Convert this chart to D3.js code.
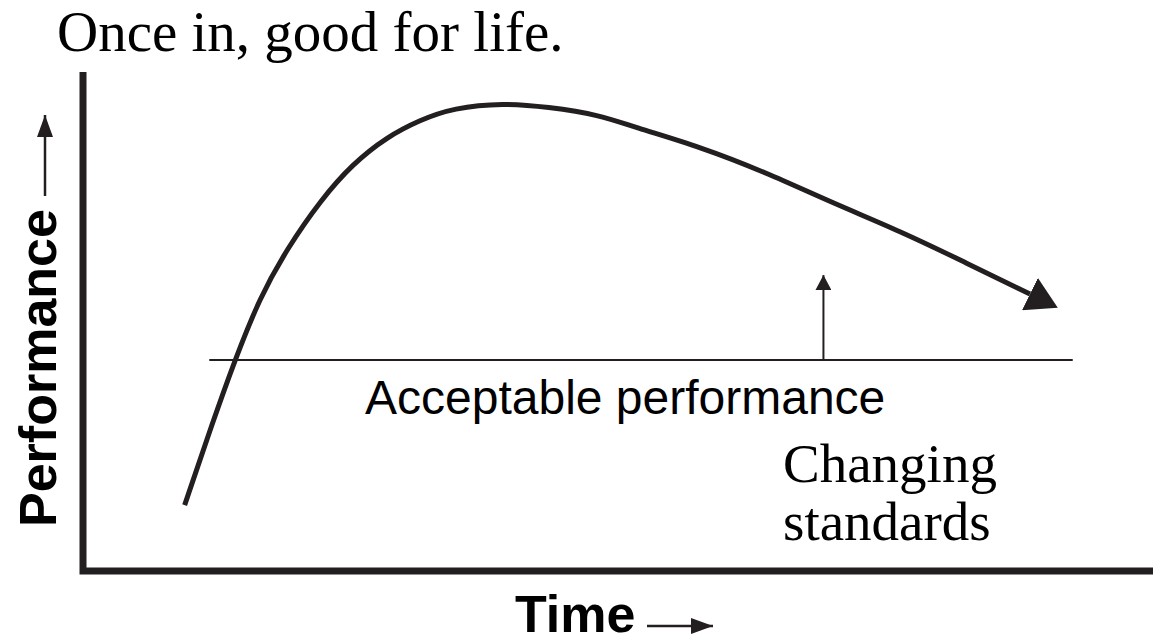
<!DOCTYPE html>
<html>
<head>
<meta charset="utf-8">
<script src="https://cdn.jsdelivr.net/npm/d3@7"></script>
<style>
  body { margin: 0; background: #fff; }
</style>
</head>
<body>
<div id="display"></div>
<script>
// performance curve (time and performance on a 0-100 scale)
var curveTime = [9.5, 12.1, 14.2, 16.5, 19.1, 22.2, 25.2, 28.4, 31.5, 34.6, 39.3, 43.4, 48.3, 51.4, 57.7, 63.9, 70.1, 76.4, 82.4, 88.5];
var curvePerf = [13.2, 29.7, 42.3, 54.7, 64.7, 74.3, 81.6, 87.0, 90.4, 92.8, 93.8, 93.0, 91.4, 89.0, 85.0, 79.8, 73.7, 68.1, 61.9, 55.5];

// acceptable level and the arrow showing the standard moving up
var acceptLevel = 42.3;
var acceptTime = [11.8, 92.5];
var shiftTime = 69.2;
var shiftPerf = [42.3, 59.3];

var titleText = "Once in, good for life.";
var acceptText = "Acceptable performance";
var standardsText = ["Changing", "standards"];
var yLabel = "Performance";
var xLabel = "Time";

var W = 1155, H = 644;
var ink = "#231f20";

var svg = d3.select("#display").append("svg")
    .attr("width", W)
    .attr("height", H);

var x = d3.scaleLinear().domain([0, 100]).range([83, 1153]);
var y = d3.scaleLinear().domain([0, 100]).range([571, 72]);

// arrow heads
var defs = svg.append("defs");
function arrowHead(id, len, half, tipAtEnd) {
  defs.append("marker")
      .attr("id", id)
      .attr("markerUnits", "userSpaceOnUse")
      .attr("viewBox", "0 " + (-half) + " " + len + " " + (2 * half))
      .attr("refX", tipAtEnd ? len : 0)
      .attr("refY", 0)
      .attr("markerWidth", len)
      .attr("markerHeight", 2 * half)
      .attr("orient", "auto")
    .append("path")
      .attr("d", "M0," + (-half) + "L" + len + ",0L0," + half + "Z")
      .attr("fill", ink);
}
arrowHead("bigHead", 31, 18, false);
arrowHead("smallHead", 15, 8, true);
arrowHead("labelHead", 22, 8, true);

// axes, just the two thick lines
svg.append("path")
    .attr("d", "M" + x(0) + "," + y(100) + "V" + y(0) + "H" + x(100))
    .attr("fill", "none")
    .attr("stroke", ink)
    .attr("stroke-width", 7)
    .attr("stroke-linejoin", "miter");

// acceptable performance line
svg.append("line")
    .attr("x1", x(acceptTime[0]))
    .attr("x2", x(acceptTime[1]))
    .attr("y1", y(acceptLevel))
    .attr("y2", y(acceptLevel))
    .attr("stroke", ink)
    .attr("stroke-width", 2);

svg.append("line")
    .attr("x1", x(shiftTime))
    .attr("x2", x(shiftTime))
    .attr("y1", y(shiftPerf[0]))
    .attr("y2", y(shiftPerf[1]))
    .attr("stroke", ink)
    .attr("stroke-width", 2)
    .attr("marker-end", "url(#smallHead)");

// the curve
var pts = curveTime.map(function(t, i) { return [t, curvePerf[i]]; });
var line = d3.line()
    .x(function(d) { return x(d[0]); })
    .y(function(d) { return y(d[1]); })
    .curve(d3.curveBasis);

svg.append("path")
    .datum(pts)
    .attr("d", line)
    .attr("fill", "none")
    .attr("stroke", ink)
    .attr("stroke-width", 5)
    .attr("marker-end", "url(#bigHead)");

// texts
svg.append("text")
    .attr("x", 57)
    .attr("y", 51)
    .attr("font-family", "Liberation Serif, Times New Roman, serif")
    .attr("font-size", 57)
    .text(titleText);

svg.append("text")
    .attr("x", 365)
    .attr("y", 414)
    .attr("font-family", "Liberation Sans, Arial, sans-serif")
    .attr("font-size", 48)
    .attr("fill", "#000")
    .text(acceptText);

svg.selectAll(".std")
  .data(standardsText)
  .enter().append("text")
    .attr("class", "std")
    .attr("x", 783)
    .attr("y", function(d, i) { return 482 + i * 58; })
    .attr("font-family", "Liberation Serif, Times New Roman, serif")
    .attr("font-size", 55)
    .text(function(d) { return d; });

svg.append("text")
    .attr("transform", "translate(56,527) rotate(-90)")
    .attr("font-family", "Liberation Sans, Arial, sans-serif")
    .attr("font-weight", "bold")
    .attr("font-size", 52)
    .text(yLabel);

svg.append("line")
    .attr("x1", 45).attr("x2", 45)
    .attr("y1", 196).attr("y2", 115)
    .attr("stroke", ink)
    .attr("stroke-width", 2.5)
    .attr("marker-end", "url(#labelHead)");

svg.append("text")
    .attr("x", 515)
    .attr("y", 632)
    .attr("font-family", "Liberation Sans, Arial, sans-serif")
    .attr("font-weight", "bold")
    .attr("font-size", 52)
    .text(xLabel);

svg.append("line")
    .attr("x1", 647).attr("x2", 713)
    .attr("y1", 626).attr("y2", 626)
    .attr("stroke", ink)
    .attr("stroke-width", 2.5)
    .attr("marker-end", "url(#labelHead)");
</script>
</body>
</html>
